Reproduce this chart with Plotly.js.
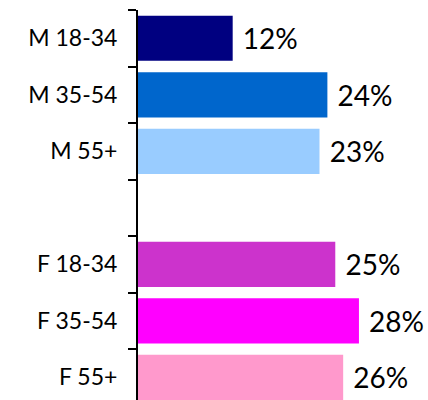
<!DOCTYPE html>
<html>
<head>
<meta charset="utf-8">
<script src="https://cdn.plot.ly/plotly-3.0.1.min.js"></script>
<style>html,body{margin:0;padding:0;background:#fff;}#chart{width:428px;height:400px;}</style>
</head>
<body>
<div id="chart"></div>
<script>
const categories = ['M 18-34', 'M 35-54', 'M 55+', ' ', 'F 18-34', 'F 35-54', 'F 55+'];
const values = [12, 24, 23, null, 25, 28, 26];
const barColors = ['#000080', '#0066CC', '#99CCFF', '#ffffff', '#CC33CC', '#FF00FF', '#FF99CC'];

const trace = {
  type: 'bar',
  orientation: 'h',
  y: categories,
  x: values,
  marker: {color: barColors, line: {width: 0}},
  text: values.map(v => v == null ? '' : '\u00a0' + v + '%'),
  textposition: 'outside',
  textfont: {family: 'Lato, sans-serif', size: 28, color: '#000'},
  cliponaxis: false,
  hoverinfo: 'none'
};

const layout = {
  width: 428,
  height: 400,
  margin: {l: 138, r: 0, t: 10, b: 0},
  paper_bgcolor: '#fff',
  plot_bgcolor: '#fff',
  showlegend: false,
  bargap: 0.2,
  xaxis: {range: [0, 36.75], visible: false, showgrid: false, zeroline: false},
  yaxis: {
    type: 'category',
    range: [6.4, -0.5],
    showline: true,
    linecolor: '#000',
    linewidth: 2,
    ticks: 'outside',
    tickson: 'boundaries',
    ticklen: 8,
    tickwidth: 2,
    tickcolor: '#000',
    ticklabelstandoff: 14,
    showgrid: false,
    zeroline: false,
    tickfont: {family: 'Lato, sans-serif', size: 23, color: '#000'}
  }
};

Plotly.newPlot('chart', [trace], layout, {displayModeBar: false, staticPlot: true});
</script>
</body>
</html>
